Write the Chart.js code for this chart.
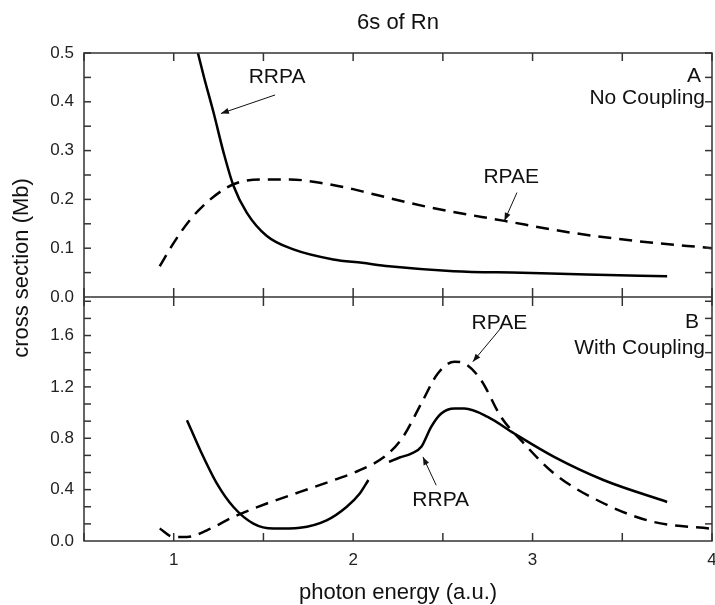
<!DOCTYPE html>
<html>
<head>
<meta charset="utf-8">
<script src="https://cdn.jsdelivr.net/npm/chart.js@4/dist/chart.umd.min.js"></script>
<style>
html, body { margin: 0; padding: 0; background: #fff; }
#contenedor { position: relative; width: 715px; height: 605px; }
</style>
</head>
<body>
<div id="contenedor"><canvas id="grafico" width="715" height="605"></canvas></div>
<script>
// panel A (no coupling)
var rrpaA_x = [1.135, 1.167, 1.222, 1.278, 1.333, 1.407, 1.519, 1.667, 1.889, 2.05, 2.2, 2.56, 2.94, 3.3, 3.75];
var rrpaA_y = [0.500, 0.453, 0.378, 0.296, 0.228, 0.173, 0.125, 0.0975, 0.077, 0.070, 0.063, 0.053, 0.0497, 0.046, 0.0427];
var rpaeA_x = [0.922, 1.0, 1.093, 1.204, 1.333, 1.481, 1.648, 1.815, 2.0, 2.065, 2.435, 2.843, 3.213, 3.583, 4.0];
var rpaeA_y = [0.063, 0.111, 0.159, 0.200, 0.231, 0.241, 0.241, 0.234, 0.221, 0.215, 0.183, 0.156, 0.132, 0.1146, 0.100];

// panel B (with coupling) - null = hueco en la curva
var rrpaB_x = [1.074, 1.148, 1.241, 1.333, 1.444, 1.556, 1.704, 1.852, 1.963, 2.037, 2.085, 2.14, 2.2, 2.259, 2.324, 2.38, 2.435, 2.491, 2.565, 2.62, 2.75, 2.898, 3.12, 3.398, 3.75];
var rrpaB_y = [0.941, 0.707, 0.447, 0.265, 0.136, 0.097, 0.104, 0.161, 0.265, 0.37, 0.475, null, 0.616, 0.65, 0.68, 0.733, 0.889, 0.993, 1.032, 1.032, 0.967, 0.837, 0.655, 0.473, 0.304];
var rpaeB_x = [0.922, 1.0, 1.074, 1.185, 1.333, 1.519, 1.704, 1.889, 2.037, 2.185, 2.278, 2.38, 2.472, 2.565, 2.62, 2.713, 2.824, 2.935, 3.12, 3.398, 3.676, 4.0];
var rpaeB_y = [0.097, 0.031, 0.031, 0.083, 0.187, 0.292, 0.382, 0.473, 0.551, 0.668, 0.811, 1.071, 1.305, 1.396, 1.383, 1.253, 0.967, 0.785, 0.526, 0.292, 0.148, 0.095];

var xTicks = [1, 2, 3, 4];

var fuente = '"Liberation Sans", Arial, sans-serif';

function puntos(xs, ys) {
    var out = [];
    for (var i = 0; i < xs.length; i++) {
        out.push({x: xs[i], y: ys[i]});
    }
    return out;
}

function linea(ctx, x1, y1, x2, y2) {
    ctx.beginPath();
    ctx.moveTo(x1, y1);
    ctx.lineTo(x2, y2);
    ctx.stroke();
}

function flecha(ctx, x1, y1, x2, y2) {
    linea(ctx, x1, y1, x2, y2);
    var ang = Math.atan2(y2 - y1, x2 - x1);
    var l = 8, w = 3;
    ctx.beginPath();
    ctx.moveTo(x2, y2);
    ctx.lineTo(x2 - l * Math.cos(ang) + w * Math.sin(ang), y2 - l * Math.sin(ang) - w * Math.cos(ang));
    ctx.lineTo(x2 - l * Math.cos(ang) - w * Math.sin(ang), y2 - l * Math.sin(ang) + w * Math.cos(ang));
    ctx.closePath();
    ctx.fill();
}

var marco = {
    id: 'marco',
    afterDraw: function (chart) {
        var ctx = chart.ctx, a = chart.chartArea;
        var sx = chart.scales.x, ya = chart.scales.yA, yb = chart.scales.yB;
        var mid = ya.bottom;
        ctx.save();
        ctx.strokeStyle = '#333';
        ctx.fillStyle = '#222';
        ctx.lineWidth = 1.5;
        ctx.strokeRect(a.left, a.top, a.right - a.left, a.bottom - a.top);
        linea(ctx, a.left, mid, a.right, mid);

        // ticks hacia adentro
        var v, p, i;
        for (v = 0.5; v <= 4.001; v += 0.5) {
            p = sx.getPixelForValue(v);
            linea(ctx, p, a.top, p, a.top + 8);
            linea(ctx, p, mid - 9, p, mid + 9);
            linea(ctx, p, a.bottom, p, a.bottom - 8);
        }
        for (v = 0.05; v < 0.5; v += 0.05) {
            p = ya.getPixelForValue(v);
            linea(ctx, a.left, p, a.left + 7, p);
            linea(ctx, a.right, p, a.right - 7, p);
        }
        for (v = 0.4 / 3; v < 1.9; v += 0.4 / 3) {
            p = yb.getPixelForValue(v);
            linea(ctx, a.left, p, a.left + 7, p);
            linea(ctx, a.right, p, a.right - 7, p);
        }

        // etiquetas eje x
        ctx.font = '17px ' + fuente;
        ctx.textAlign = 'center';
        ctx.textBaseline = 'middle';
        for (i = 0; i < xTicks.length; i++) {
            ctx.fillText(String(xTicks[i]), sx.getPixelForValue(xTicks[i]), 560);
        }

        // textos
        ctx.fillStyle = '#111';
        ctx.font = '22px ' + fuente;
        ctx.fillText('6s of Rn', (a.left + a.right) / 2, 23);
        ctx.fillText('photon energy (a.u.)', (a.left + a.right) / 2, 593);
        ctx.save();
        ctx.translate(22, 268);
        ctx.rotate(-Math.PI / 2);
        ctx.fillText('cross section (Mb)', 0, 0);
        ctx.restore();

        ctx.font = '21px ' + fuente;
        ctx.fillText('RRPA', sx.getPixelForValue(1.576), ya.getPixelForValue(0.451));
        ctx.fillText('RPAE', sx.getPixelForValue(2.881), ya.getPixelForValue(0.245));
        ctx.fillText('RPAE', sx.getPixelForValue(2.815), yb.getPixelForValue(1.697));
        ctx.fillText('RRPA', sx.getPixelForValue(2.488), yb.getPixelForValue(0.317));
        ctx.textAlign = 'right';
        ctx.fillText('A', 701, ya.getPixelForValue(0.453));
        ctx.fillText('No Coupling', 705, ya.getPixelForValue(0.407));
        ctx.fillText('B', 699, yb.getPixelForValue(1.705));
        ctx.fillText('With Coupling', 705, yb.getPixelForValue(1.503));

        ctx.lineWidth = 1;
        ctx.strokeStyle = '#111';
        ctx.fillStyle = '#111';
        flecha(ctx, sx.getPixelForValue(1.565), ya.getPixelForValue(0.414), sx.getPixelForValue(1.263), ya.getPixelForValue(0.376));
        flecha(ctx, sx.getPixelForValue(2.913), ya.getPixelForValue(0.214), sx.getPixelForValue(2.843), ya.getPixelForValue(0.156));
        flecha(ctx, sx.getPixelForValue(2.824), yb.getPixelForValue(1.659), sx.getPixelForValue(2.667), yb.getPixelForValue(1.396));
        flecha(ctx, sx.getPixelForValue(2.463), yb.getPixelForValue(0.434), sx.getPixelForValue(2.389), yb.getPixelForValue(0.655));
        ctx.restore();
    }
};

var ctx = document.getElementById('grafico').getContext('2d');
var chart = new Chart(ctx, {
    type: 'line',
    data: {
        datasets: [
            {label: 'RRPA A', data: puntos(rrpaA_x, rrpaA_y), yAxisID: 'yA', borderColor: '#000', borderWidth: 2.5},
            {label: 'RPAE A', data: puntos(rpaeA_x, rpaeA_y), yAxisID: 'yA', borderColor: '#000', borderWidth: 2.5, borderDash: [13, 8]},
            {label: 'RRPA B', data: puntos(rrpaB_x, rrpaB_y), yAxisID: 'yB', borderColor: '#000', borderWidth: 2.5},
            {label: 'RPAE B', data: puntos(rpaeB_x, rpaeB_y), yAxisID: 'yB', borderColor: '#000', borderWidth: 2.5, borderDash: [13, 8]}
        ]
    },
    options: {
        responsive: false,
        animation: false,
        devicePixelRatio: 1,
        layout: {padding: {top: 53, right: 3, bottom: 0, left: 0}},
        elements: {
            point: {radius: 0},
            line: {cubicInterpolationMode: 'monotone', fill: false}
        },
        spanGaps: false,
        plugins: {legend: {display: false}, tooltip: {enabled: false}},
        scales: {
            // el primero de la pila queda abajo
            yB: {
                type: 'linear', position: 'left', stack: 'paneles', stackWeight: 1,
                min: 0, max: 1.9,
                grid: {display: false, drawTicks: false},
                border: {display: false},
                afterFit: function (s) { s.width = 84; },
                ticks: {
                    stepSize: 0.4, padding: 10, color: '#222', includeBounds: false,
                    font: {family: fuente, size: 17},
                    callback: function (v) { return v.toFixed(1); }
                }
            },
            yA: {
                type: 'linear', position: 'left', stack: 'paneles', stackWeight: 1,
                min: 0, max: 0.5,
                grid: {display: false, drawTicks: false},
                border: {display: false},
                afterFit: function (s) { s.width = 84; },
                ticks: {
                    stepSize: 0.1, padding: 10, color: '#222', includeBounds: false,
                    font: {family: fuente, size: 17},
                    callback: function (v) { return v.toFixed(1); }
                }
            },
            x: {
                type: 'linear', min: 0.5, max: 4,
                grid: {display: false, drawTicks: false},
                border: {display: false},
                afterFit: function (s) { s.height = 64; },
                ticks: {display: false, stepSize: 0.5}
            }
        }
    },
    plugins: [marco]
});
</script>
</body>
</html>
